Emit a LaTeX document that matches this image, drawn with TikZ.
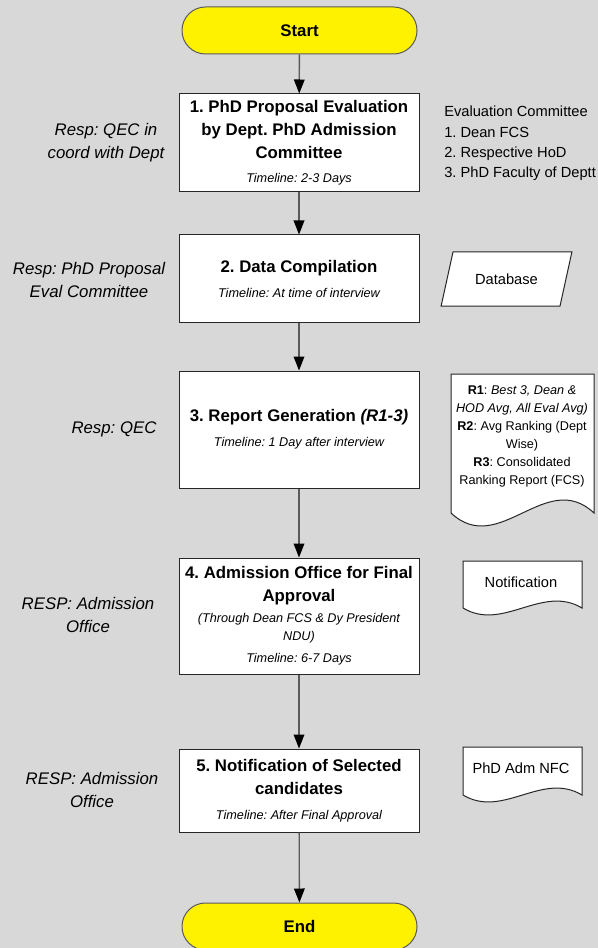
\documentclass[tikz,border=0pt]{standalone}
\usepackage{fontspec}
\setmainfont{Liberation Sans}
\usepackage{tikz}
\usetikzlibrary{arrows.meta}
\usetikzlibrary{shapes.geometric}
\definecolor{bggray}{RGB}{216,216,216}
\definecolor{linegray}{RGB}{90,90,90}
\frenchspacing

\begin{document}
\begin{tikzpicture}[x=0.75pt,y=-0.75pt,
  terminal/.style={draw=linegray,line width=0.75pt,fill=yellow,rounded corners=17.6pt,minimum width=176.25pt,minimum height=35.25pt,font=\fontsize{12.6}{15}\selectfont\bfseries},
  stepbox/.style={draw=black!85,line width=0.75pt,fill=white,minimum width=180pt,align=center,inner sep=2pt,font=\fontsize{12.6}{17.25}\selectfont\bfseries},
  resp/.style={align=center,inner sep=0pt,font=\fontsize{12.6}{17.25}\selectfont\itshape},
  members/.style={align=left,inner sep=0pt,anchor=west,font=\fontsize{11}{15.3}\selectfont},
  docshape/.style={draw=black!85,line width=0.75pt,fill=white},
  doctext/.style={align=center,inner sep=0pt,font=\fontsize{11}{15}\selectfont},
  flow/.style={draw=linegray,line width=1pt,-{Triangle[width=8pt,length=10.5pt,color=black]}}]
\useasboundingbox (0,0) rectangle (598,948);
\fill[bggray] (0,0) rectangle (598,948);

\node[terminal] (start) at (299.5,30.5) {Start};
\node[stepbox,minimum height=73.5pt] (proposal) at (299,143) {1. PhD Proposal Evaluation\\ by Dept. PhD Admission\\ Committee\\[1pt] {\normalfont\itshape\fontsize{9.5}{12}\selectfont Timeline: 2-3 Days}};
\node[stepbox,minimum height=65.25pt] (compile) at (299,278.5) {2. Data Compilation\\[1.5pt] {\normalfont\itshape\fontsize{9.5}{12}\selectfont Timeline: At time of interview}};
\node[stepbox,minimum height=87.75pt] (report) at (299,429.5) {3. Report Generation \textit{(R1-3)}\\[1.5pt] {\normalfont\itshape\fontsize{9.5}{12}\selectfont Timeline: 1 Day after interview}};
\node[stepbox,minimum height=87pt] (approval) at (299,616) {4. Admission Office for Final\\ Approval\\[-1.5pt] {\normalfont\itshape\fontsize{9.5}{12}\selectfont (Through Dean FCS \& Dy President}\\[-3.75pt] {\normalfont\itshape\fontsize{9.5}{12}\selectfont NDU)}\\[-0.75pt] {\normalfont\itshape\fontsize{9.5}{12}\selectfont Timeline: 6-7 Days}};
\node[stepbox,minimum height=62.25pt] (notify) at (299,790.5) {5. Notification of Selected\\ candidates\\[1.5pt] {\normalfont\itshape\fontsize{9.5}{12}\selectfont Timeline: After Final Approval}};
\node[terminal] (end) at (299.5,926.5) {End};

\node[resp] (resp1) at (106,143) {Resp: QEC in\\ coord with Dept};
\node[resp] (resp2) at (89,280) {Resp: PhD Proposal\\ Eval Committee};
\node[resp] (resp3) at (114,429) {Resp: QEC};
\node[resp] (resp4) at (88,615) {RESP: Admission\\ Office};
\node[resp] (resp5) at (92,790) {RESP: Admission\\ Office};

\node[members] (committee) at (444,143.5) {Evaluation Committee\\ 1. Dean FCS\\ 2. Respective HoD\\ 3. PhD Faculty of Deptt};
\node[draw=black!85,line width=0.75pt,fill=white,trapezium,trapezium left angle=68,trapezium right angle=112,trapezium stretches=true,minimum width=98.25pt,minimum height=40.5pt,font=\fontsize{11}{13}\selectfont] (database) at (506.5,279) {Database};

\draw[docshape] (451,374) -- (594,374) -- (594,513) .. controls (546,468) and (499,558) .. (451,513) -- cycle;
\node[doctext,font=\fontsize{9.5}{13.5}\selectfont] (reports) at (522,436) {\textbf{R1}: \textit{Best 3, Dean \&}\\ \textit{HOD Avg, All Eval Avg)}\\ \textbf{R2}: Avg Ranking (Dept\\ Wise)\\ \textbf{R3}: Consolidated\\ Ranking Report (FCS)};
\draw[docshape] (463,561) -- (582,561) -- (582,608) .. controls (542,584) and (503,632) .. (463,608) -- cycle;
\node[doctext] (notice) at (521,582) {Notification};
\draw[docshape] (463,747) -- (582,747) -- (582,795) .. controls (542,771) and (503,819) .. (463,795) -- cycle;
\node[doctext] (nfc) at (521,768) {PhD Adm NFC};

\path[flow]
  (start) edge (proposal)
  (proposal) edge (compile)
  (compile) edge (report)
  (report) edge (approval)
  (approval) edge (notify)
  (notify) edge (end);
\end{tikzpicture}
\end{document}
